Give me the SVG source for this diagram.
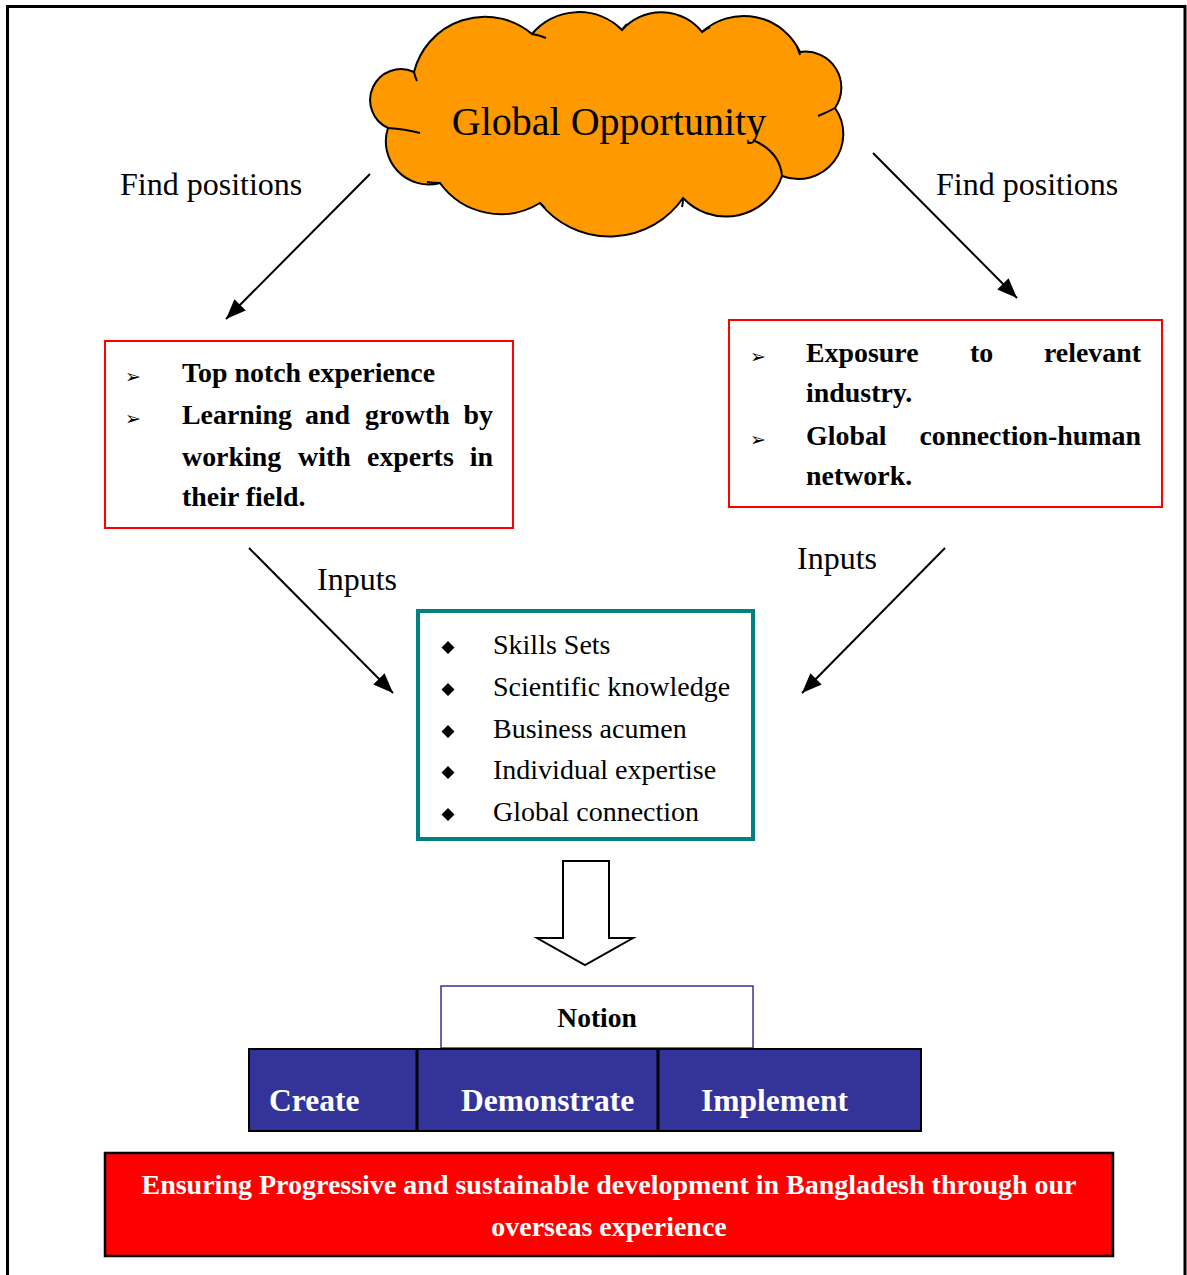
<svg xmlns="http://www.w3.org/2000/svg" width="1187" height="1275" viewBox="0 0 1187 1275">
<defs>
<marker id="ah" markerUnits="userSpaceOnUse" markerWidth="22" markerHeight="16" refX="20" refY="8" orient="auto">
<path d="M0,0 L20,8 L0,16 Z" fill="#000"/>
</marker>
<style>
.serif{font-family:"Liberation Serif","Times New Roman",serif;}
.lbl{font-family:"Liberation Serif","Times New Roman",serif;font-size:32px;fill:#000;}
.bold{font-family:"Liberation Serif","Times New Roman",serif;font-size:27.9px;font-weight:bold;fill:#000;}
.item{font-family:"Liberation Serif","Times New Roman",serif;font-size:28px;fill:#000;}
.bul{font-family:"DejaVu Sans",sans-serif;font-size:19px;fill:#000;}
.conn{stroke:#000;stroke-width:2;fill:none;marker-end:url(#ah);}
.wt{font-family:"Liberation Serif","Times New Roman",serif;font-weight:bold;fill:#fff;}
</style>
</defs>
<rect width="1187" height="1275" fill="#fff"/>
<path d="M7.5,1275 V6.5 H1185 V1275" fill="none" stroke="#000" stroke-width="3"/>

<g id="cloud">
<path d="M414,72 A73,73 0 0 1 532,34 A61,61 0 0 1 622,30 A52,52 0 0 1 702,32 A62,62 0 0 1 800,52 A36,36 0 0 1 835,108 A45,45 0 0 1 782,176 A59,59 0 0 1 683,198 A89,89 0 0 1 540,203 A75,75 0 0 1 440,183 A43,43 0 0 1 388,128 A30,30 0 0 1 414,72 Z" fill="#FF9900" stroke="#000" stroke-width="2"/>
<path d="M414,72 Q415,77 417,81 M532,34 Q539,35 546,38 M622,30 Q624,27 627,24 M702,32 Q706,29 710,27 M797,47 Q799,51 800,55 M835,108 Q828,112 818,116 M782,176 Q780,152 753,140 M683,198 Q683,203 682,207 M540,203 Q542,205 545,208 M440,183 Q434,183 427,182 M388,128 Q405,129 420,133" fill="none" stroke="#000" stroke-width="2"/>
<text x="609" y="135" class="serif" font-size="40" text-anchor="middle">Global Opportunity</text>
</g>

<g id="left-box">
<rect x="105" y="341" width="408" height="187" fill="#fff" stroke="#FF0000" stroke-width="2"/>
<text x="125" y="383" class="bul">➢</text>
<text x="125" y="425" class="bul">➢</text>
<text y="382" class="bold"><tspan x="182">Top notch experience</tspan></text>
<text y="424" class="bold"><tspan x="182">Learning</tspan><tspan x="305">and</tspan><tspan x="365">growth</tspan></text>
<text x="493" y="424" class="bold" text-anchor="end">by</text>
<text y="466" class="bold"><tspan x="182">working</tspan><tspan x="298">with</tspan><tspan x="367">experts</tspan></text>
<text x="493" y="466" class="bold" text-anchor="end">in</text>
<text x="182" y="506" class="bold">their field.</text>
</g>

<g id="right-box">
<rect x="729" y="320" width="433" height="187" fill="#fff" stroke="#FF0000" stroke-width="2"/>
<text x="750" y="363" class="bul">➢</text>
<text x="750" y="446" class="bul">➢</text>
<text y="362" class="bold"><tspan x="806">Exposure</tspan><tspan x="970">to</tspan></text>
<text x="1141" y="362" class="bold" text-anchor="end">relevant</text>
<text x="806" y="402" class="bold">industry.</text>
<text x="806" y="445" class="bold">Global</text>
<text x="1141" y="445" class="bold" text-anchor="end">connection-human</text>
<text x="806" y="485" class="bold">network.</text>
</g>

<g id="center-box">
<rect x="418" y="611" width="335" height="228" fill="#fff" stroke="#008080" stroke-width="4"/>
<path d="M448,641 L454.5,647.5 L448,654 L441.5,647.5 Z M448,683 L454.5,689.5 L448,696 L441.5,689.5 Z M448,725 L454.5,731.5 L448,738 L441.5,731.5 Z M448,766 L454.5,772.5 L448,779 L441.5,772.5 Z M448,808 L454.5,814.5 L448,821 L441.5,814.5 Z" fill="#000"/>
<text x="493" y="654" class="item">Skills Sets</text>
<text x="493" y="696" class="item">Scientific knowledge</text>
<text x="493" y="738" class="item">Business acumen</text>
<text x="493" y="779" class="item">Individual expertise</text>
<text x="493" y="821" class="item">Global connection</text>
</g>

<g id="block-arrow">
<path d="M563,861 H609 V938 H633 L585,965 L537,938 H563 Z" fill="#fff" stroke="#000" stroke-width="2"/>
</g>

<g id="notion">
<rect x="441" y="986" width="312" height="62" fill="#fff" stroke="#333399" stroke-width="1.5"/>
<text x="597" y="1027" class="serif" font-size="27.5" font-weight="bold" text-anchor="middle">Notion</text>
</g>

<g id="create">
<rect x="249" y="1049" width="168" height="82" fill="#333399" stroke="#000" stroke-width="2"/>
<text x="269" y="1111" class="wt" font-size="31.5">Create</text>
</g>
<g id="demonstrate">
<rect x="417" y="1049" width="241" height="82" fill="#333399" stroke="#000" stroke-width="2"/>
<text x="461" y="1111" class="wt" font-size="31.5">Demonstrate</text>
</g>
<g id="implement">
<rect x="658" y="1049" width="263" height="82" fill="#333399" stroke="#000" stroke-width="2"/>
<text x="701" y="1111" class="wt" font-size="31.5">Implement</text>
</g>
<line x1="417" y1="1049" x2="417" y2="1131" stroke="#000" stroke-width="3"/>
<line x1="658" y1="1049" x2="658" y2="1131" stroke="#000" stroke-width="3"/>

<g id="goal">
<rect x="105" y="1153" width="1008" height="103" fill="#FF0000" stroke="#000" stroke-width="2.5"/>
<text x="609" y="1194" class="wt" font-size="28" text-anchor="middle">Ensuring Progressive and sustainable development in Bangladesh through our</text>
<text x="609" y="1236" class="wt" font-size="28" text-anchor="middle">overseas experience</text>
</g>

<g id="connectors">
<line x1="370" y1="174" x2="226" y2="319" class="conn"/>
<line x1="873" y1="153" x2="1017" y2="298" class="conn"/>
<line x1="249" y1="548" x2="393" y2="693" class="conn"/>
<line x1="945" y1="548" x2="802" y2="693" class="conn"/>
<text x="120" y="195" class="lbl">Find positions</text>
<text x="936" y="195" class="lbl">Find positions</text>
<text x="317" y="590" class="lbl">Inputs</text>
<text x="797" y="569" class="lbl">Inputs</text>
</g>
</svg>
